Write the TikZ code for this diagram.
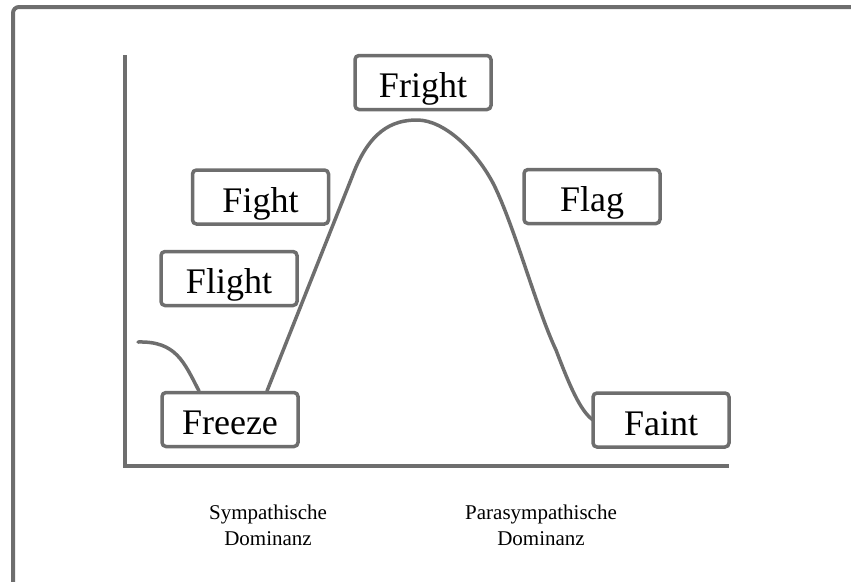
\documentclass[tikz,border=0pt]{standalone}
\usepackage{fontspec}
\setmainfont{Liberation Serif}
\usetikzlibrary{calc}
\definecolor{linegray}{HTML}{6E6E6E}
\tikzset{
  x=1pt, y=-1pt,
  frameline/.style={draw=linegray, line width=4pt},
  axisline/.style={draw=linegray, line width=3.5pt},
  curveline/.style={draw=linegray, line width=3.5pt, line cap=round},
  stagebox/.style={draw=linegray, line width=3.5pt, rounded corners=4pt, fill=white,
    minimum width=136pt, minimum height=54pt, inner sep=0pt,
    text height=32pt, text depth=2pt,
    font=\fontsize{36}{42}\selectfont},
  axislabel/.style={align=center, font=\fontsize{21}{26}\selectfont}
}
\begin{document}
\begin{tikzpicture}
\useasboundingbox (0,0) rectangle (851,581);
\clip (0,0) rectangle (851,581);
% outer frame, running off the page at right and bottom
\draw[frameline, rounded corners=6pt] (13,7) rectangle (900,640);

% axes
\coordinate (ytop) at (125,55);
\coordinate (origin) at (125,466);
\coordinate (xend) at (729,466);
\draw[axisline] (ytop) -- (origin) -- (xend);

% curves
\coordinate (lstart) at (138,342);
\coordinate (fzleft) at (199,391);
\coordinate (fzright) at (267,391);
\coordinate (kink) at (352,177);
\coordinate (peak) at (417,120);
\coordinate (fall) at (494,185);
\coordinate (low) at (556,350);
\coordinate (ftend) at (593,420);
\draw[curveline] (lstart) .. controls (176,341) and (184,362) .. (fzleft);
\draw[curveline] (fzright) -- (kink)
  .. controls (369,131) and (392,120) .. (peak)
  .. controls (444,120) and (476,150) .. (fall)
  .. controls (515,228) and (537,310) .. (low)
  .. controls (569,384) and (580,411) .. (ftend);

% stages
\node[stagebox] (fright) at (423,82.5) {Fright};
\node[stagebox] (fight) at (260.5,197) {Fight};
\node[stagebox] (flag) at (592,196.5) {Flag};
\node[stagebox] (flight) at (229,278.5) {Flight};
\node[stagebox] (freeze) at (230,419.5) {Freeze};
\node[stagebox] (faint) at (661,420) {Faint};

% axis labels
\node[axislabel] (symp) at (268,525) {Sympathische\\Dominanz};
\node[axislabel] (para) at (541,525) {Parasympathische\\Dominanz};
\end{tikzpicture}
\end{document}
